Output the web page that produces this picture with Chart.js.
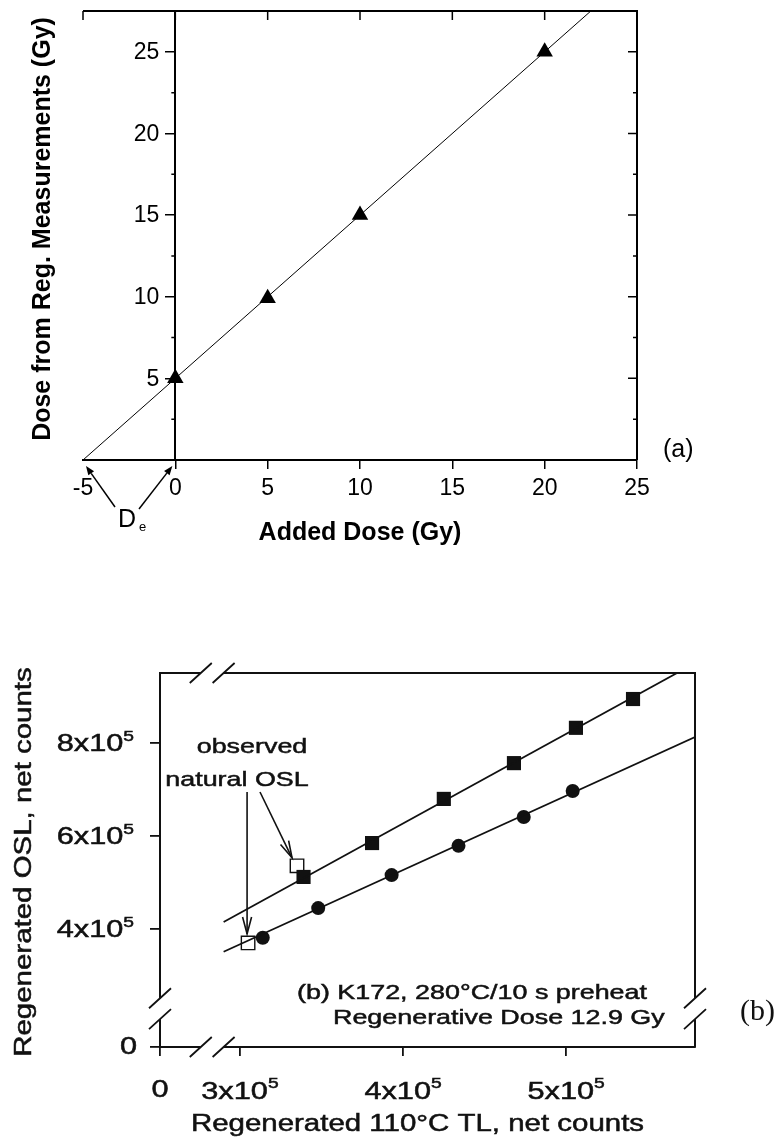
<!DOCTYPE html>
<html>
<head>
<meta charset="utf-8">
<script src="https://cdn.jsdelivr.net/npm/chart.js@4.4.0/dist/chart.umd.min.js"></script>
<style>
  html, body { margin: 0; padding: 0; background: #fff; }
  #page { position: relative; width: 783px; height: 1146px; overflow: hidden; }
  #doseChart { position: absolute; left: 0; top: 0; }
  #oslChart { position: absolute; left: 0; top: 600px; filter: blur(0.4px); }
</style>
</head>
<body>
<div id="page">
  <canvas id="doseChart" width="783" height="560"></canvas>
  <canvas id="oslChart" width="783" height="546"></canvas>
</div>
<script>
// ---- (a) additive-dose plot ----
const addedDose = [0, 5, 10, 20];
const regDose = [5.0, 9.9, 15.0, 25.0];
const fitX = [-5, 22.5];
const fitY = [0, 27.5];
const doseTicksX = [-5, 0, 5, 10, 15, 20, 25];
const doseTicksY = [5, 10, 15, 20, 25];
const doseMinorY = [2.5, 7.5, 12.5, 17.5, 22.5];

// ---- (b) regenerated OSL vs 110°C TL, counts in units of 1e5 ----
const tlSquares = [3.39, 3.81, 4.25, 4.68, 5.06, 5.41];
const oslSquares = [5.11, 5.84, 6.79, 7.56, 8.32, 8.94];
const tlCircles = [3.14, 3.48, 3.93, 4.34, 4.74, 5.04];
const oslCircles = [3.80, 4.44, 5.15, 5.78, 6.40, 6.96];
const tlNatural = [3.35, 3.05];
const oslNatural = [5.35, 3.69];
const upperFitX = [2.90, 5.68];
const upperFitY = [4.14, 9.50];
const lowerFitX = [2.90, 5.79];
const lowerFitY = [3.50, 8.12];
const tlTicks = [3, 4, 5];
const oslTicks = [4, 6, 8];
const tlBreak = [2.76, 2.90];
const oslBreak = [2.05, 2.50];

const SANS = "'Liberation Sans', Arial, sans-serif";
const SERIF = "'Liberation Serif', 'Times New Roman', serif";
const SX = 1.28; // the scanned panel's lettering is wide

const toPoints = (xs, ys) => xs.map((v, i) => ({ x: v, y: ys[i] }));

function arrow(ctx, x0, y0, x1, y1, len, half, filled) {
  const ang = Math.atan2(y1 - y0, x1 - x0);
  const bx = x1 - Math.cos(ang) * len;
  const by = y1 - Math.sin(ang) * len;
  const nx = -Math.sin(ang) * half;
  const ny = Math.cos(ang) * half;
  ctx.beginPath();
  ctx.moveTo(x0, y0);
  ctx.lineTo(filled ? bx : x1, filled ? by : y1);
  ctx.stroke();
  ctx.beginPath();
  ctx.moveTo(bx + nx, by + ny);
  ctx.lineTo(x1, y1);
  ctx.lineTo(bx - nx, by - ny);
  if (filled) {
    ctx.closePath();
    ctx.fill();
  } else {
    ctx.stroke();
  }
}

// stretched, slightly heavy lettering for panel (b)
function wideText(ctx, text, x, y, font, align) {
  ctx.save();
  ctx.font = font;
  ctx.textBaseline = 'middle';
  ctx.textAlign = 'left';
  const w = ctx.measureText(text).width * SX;
  const left = align === 'center' ? x - w / 2 : align === 'right' ? x - w : x;
  ctx.translate(left, y);
  ctx.scale(SX, 1);
  ctx.fillText(text, 0, 0);
  ctx.lineWidth = 0.5;
  ctx.strokeText(text, 0, 0);
  ctx.restore();
}

// "4x10" with a raised 5
function powerLabel(ctx, mant, x, y, align) {
  const base = mant + 'x10';
  ctx.save();
  ctx.font = `24px ${SANS}`;
  const wb = ctx.measureText(base).width * SX;
  ctx.font = `15px ${SANS}`;
  const ws = ctx.measureText('5').width * SX;
  ctx.restore();
  const w = wb + ws;
  const left = align === 'center' ? x - w / 2 : x - w;
  wideText(ctx, base, left, y, `24px ${SANS}`, 'left');
  wideText(ctx, '5', left + wb, y - 8, `15px ${SANS}`, 'left');
}

// frame, inward ticks and labels of panel (a)
const doseDecor = {
  id: 'doseDecor',
  afterDatasetsDraw(chart) {
    const { ctx, chartArea: a, scales: { x, y } } = chart;
    const x0 = x.getPixelForValue(0);
    ctx.save();
    ctx.strokeStyle = '#000';
    ctx.fillStyle = '#000';
    ctx.lineWidth = 2;
    ctx.beginPath();
    ctx.moveTo(a.left, a.top);
    ctx.lineTo(a.right, a.top);
    ctx.lineTo(a.right, a.bottom);
    ctx.stroke();

    ctx.lineWidth = 1.5;
    ctx.beginPath();
    doseTicksX.slice(0, -1).forEach(v => {
      const px = x.getPixelForValue(v);
      ctx.moveTo(px, a.top);
      ctx.lineTo(px, a.top + 9);
    });
    doseTicksY.forEach(v => {
      const py = y.getPixelForValue(v);
      ctx.moveTo(a.right, py);
      ctx.lineTo(a.right - 9, py);
    });
    doseMinorY.forEach(v => {
      const py = y.getPixelForValue(v);
      ctx.moveTo(a.right, py);
      ctx.lineTo(a.right - 4, py);
      ctx.moveTo(x0, py);
      ctx.lineTo(x0 - 4, py);
    });
    ctx.stroke();

    // labels of the y axis standing at x = 0
    ctx.font = `23px ${SANS}`;
    ctx.textAlign = 'right';
    ctx.textBaseline = 'middle';
    doseTicksY.forEach(v => ctx.fillText(String(v), x0 - 16, y.getPixelForValue(v) + 1));

    // axis titles
    ctx.textAlign = 'center';
    ctx.font = `bold 25px ${SANS}`;
    ctx.fillText('Added Dose (Gy)', (a.left + a.right) / 2, 533);
    ctx.save();
    ctx.translate(43, 229);
    ctx.rotate(-Math.PI / 2);
    ctx.fillText('Dose from Reg. Measurements (Gy)', 0, 0);
    ctx.restore();

    ctx.font = `25px ${SANS}`;
    ctx.textAlign = 'left';
    ctx.fillText('(a)', a.right + 26, a.bottom - 10);

    // D_e with arrows to the two intercepts
    ctx.fillText('D', 118, 520);
    ctx.font = `13px ${SANS}`;
    ctx.fillText('e', 139, 527);
    ctx.lineWidth = 1.5;
    const yb = y.getPixelForValue(0);
    arrow(ctx, 115, 507, x.getPixelForValue(-5) + 3, yb + 6, 9, 3.5, true);
    arrow(ctx, 139, 509, x0 - 3, yb + 6, 9, 3.5, true);
    ctx.restore();
  }
};

new Chart(document.getElementById('doseChart'), {
  type: 'scatter',
  data: {
    datasets: [
      {
        data: toPoints(fitX, fitY),
        showLine: true,
        borderColor: '#000',
        borderWidth: 1,
        pointRadius: 0
      },
      {
        data: toPoints(addedDose, regDose),
        pointStyle: 'triangle',
        pointRadius: 9.5,
        backgroundColor: '#000',
        borderColor: '#000',
        borderWidth: 0
      }
    ]
  },
  options: {
    responsive: false,
    animation: false,
    layout: { padding: { left: 83, right: 146, top: 11, bottom: 60 } },
    plugins: { legend: { display: false }, tooltip: { enabled: false } },
    scales: {
      x: {
        type: 'linear',
        position: 'bottom',
        min: -5,
        max: 25,
        afterBuildTicks: s => { s.ticks = doseTicksX.map(v => ({ value: v })); },
        afterFit: s => { s.height = 40; },
        ticks: { color: '#000', font: { family: SANS, size: 23 }, padding: 6 },
        grid: {
          drawOnChartArea: false,
          tickLength: 9,
          lineWidth: 1.5,
          tickColor: c => (c.tick && c.tick.value === -5 ? 'rgba(0,0,0,0)' : '#000')
        },
        border: { color: '#000', width: 2 }
      },
      y: {
        type: 'linear',
        position: { x: 0 },
        min: 0,
        max: 27.5,
        afterBuildTicks: s => { s.ticks = doseTicksY.map(v => ({ value: v })); },
        ticks: { display: false },
        grid: { drawOnChartArea: false, tickLength: 9, lineWidth: 1.5, tickColor: '#000' },
        border: { color: '#000', width: 2 }
      }
    }
  },
  plugins: [doseDecor]
});

// broken frame, tick labels and notes of panel (b)
function slash(ctx, cx, cy) {
  ctx.moveTo(cx - 11, cy + 10);
  ctx.lineTo(cx + 11, cy - 10);
}

const oslDecor = {
  id: 'oslDecor',
  afterDatasetsDraw(chart) {
    const { ctx, chartArea: a, scales: { x, y } } = chart;
    const bx = tlBreak.map(v => x.getPixelForValue(v));
    const by = oslBreak.map(v => y.getPixelForValue(v));
    ctx.save();
    ctx.fillStyle = '#fff';
    // gaps in the left and bottom axis lines
    ctx.fillRect(a.left - 3, by[1], 6, by[0] - by[1]);
    ctx.fillRect(bx[0], a.bottom - 3, bx[1] - bx[0], 6);

    ctx.strokeStyle = '#111';
    ctx.fillStyle = '#111';
    ctx.lineWidth = 2;
    ctx.beginPath();
    ctx.moveTo(a.left, a.top);
    ctx.lineTo(bx[0], a.top);
    ctx.moveTo(bx[1], a.top);
    ctx.lineTo(a.right, a.top);
    ctx.lineTo(a.right, by[1]);
    ctx.moveTo(a.right, by[0]);
    ctx.lineTo(a.right, a.bottom);
    ctx.stroke();

    ctx.lineWidth = 1.8;
    ctx.beginPath();
    bx.forEach(px => { slash(ctx, px, a.top); slash(ctx, px, a.bottom); });
    by.forEach(py => { slash(ctx, a.left, py); slash(ctx, a.right, py); });
    ctx.stroke();

    // tick labels
    wideText(ctx, '0', x.getPixelForValue(x.min), a.bottom + 43, `24px ${SANS}`, 'center');
    tlTicks.forEach(v => powerLabel(ctx, v, x.getPixelForValue(v), a.bottom + 45, 'center'));
    wideText(ctx, '0', a.left - 23, y.getPixelForValue(y.min), `24px ${SANS}`, 'right');
    oslTicks.forEach(v => powerLabel(ctx, v, a.left - 26, y.getPixelForValue(v) + 2, 'right'));

    // axis titles
    wideText(ctx, 'Regenerated 110°C TL, net counts', (a.left + a.right) / 2 - 10, a.bottom + 78, `23px ${SANS}`, 'center');
    ctx.save();
    ctx.translate(25, (a.top + a.bottom) / 2 + 2);
    ctx.rotate(-Math.PI / 2);
    wideText(ctx, 'Regenerated OSL, net counts', 0, 0, `23px ${SANS}`, 'center');
    ctx.restore();

    // notes
    const font = `21px ${SANS}`;
    wideText(ctx, 'observed', 252, 147, font, 'center');
    wideText(ctx, 'natural OSL', 237, 180, font, 'center');
    wideText(ctx, '(b) K172, 280°C/10 s preheat', 297, 393, font, 'left');
    wideText(ctx, 'Regenerative Dose 12.9 Gy', 333, 418, font, 'left');

    ctx.font = `30px ${SERIF}`;
    ctx.textAlign = 'left';
    ctx.textBaseline = 'middle';
    ctx.fillText('(b)', a.right + 45, 412);

    // arrows onto the natural OSL points
    const hiX = x.getPixelForValue(tlNatural[0]);
    const hiY = y.getPixelForValue(oslNatural[0]);
    const loX = x.getPixelForValue(tlNatural[1]);
    const loY = y.getPixelForValue(oslNatural[1]);
    ctx.lineWidth = 1.6;
    arrow(ctx, loX - 1, 192, loX - 1, loY - 9, 17, 4.5, false);
    arrow(ctx, 260, 192, hiX - 5, hiY - 8, 17, 4.5, false);
    ctx.restore();
  }
};

new Chart(document.getElementById('oslChart'), {
  type: 'scatter',
  data: {
    datasets: [
      {
        data: toPoints(upperFitX, upperFitY),
        showLine: true,
        borderColor: '#111',
        borderWidth: 1.8,
        pointRadius: 0
      },
      {
        data: toPoints(lowerFitX, lowerFitY),
        showLine: true,
        borderColor: '#111',
        borderWidth: 1.8,
        pointRadius: 0
      },
      {
        data: toPoints(tlSquares, oslSquares),
        pointStyle: 'rect',
        pointRadius: 10,
        backgroundColor: '#111',
        borderColor: '#111',
        borderWidth: 0
      },
      {
        data: toPoints(tlCircles, oslCircles),
        pointStyle: 'circle',
        pointRadius: 7,
        backgroundColor: '#111',
        borderColor: '#111',
        borderWidth: 0
      },
      {
        data: toPoints(tlNatural, oslNatural),
        pointStyle: 'rect',
        pointRadius: 9.5,
        backgroundColor: '#fff',
        borderColor: '#111',
        borderWidth: 1.4
      }
    ]
  },
  options: {
    responsive: false,
    animation: false,
    layout: { padding: { left: 100, right: 88, top: 73, bottom: 39 } },
    plugins: { legend: { display: false }, tooltip: { enabled: false } },
    scales: {
      x: {
        type: 'linear',
        position: 'bottom',
        min: 2.51,
        max: 5.79,
        afterBuildTicks: s => { s.ticks = [s.min, ...tlTicks].map(v => ({ value: v })); },
        afterFit: s => { s.height = 60; },
        ticks: { display: false },
        grid: { drawOnChartArea: false, tickLength: 9, lineWidth: 1.8, tickColor: '#111' },
        border: { color: '#111', width: 2 }
      },
      y: {
        type: 'linear',
        position: 'left',
        min: 1.45,
        max: 9.5,
        afterBuildTicks: s => { s.ticks = [s.min, ...oslTicks].map(v => ({ value: v })); },
        afterFit: s => { s.width = 60; },
        ticks: { display: false },
        grid: { drawOnChartArea: false, tickLength: 10, lineWidth: 1.8, tickColor: '#111' },
        border: { color: '#111', width: 2 }
      }
    }
  },
  plugins: [oslDecor]
});
</script>
</body>
</html>
